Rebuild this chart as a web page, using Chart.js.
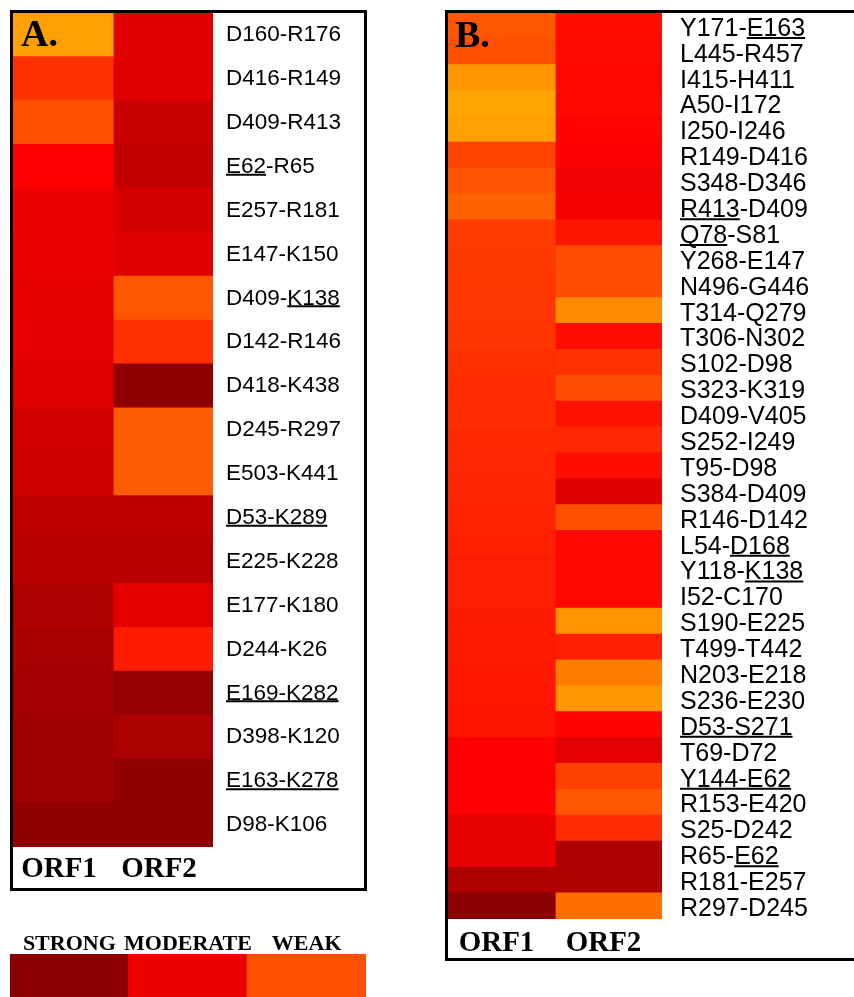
<!DOCTYPE html>
<html>
<head>
<meta charset="utf-8">
<script src="https://cdn.jsdelivr.net/npm/chart.js@4"></script>
<style>
  html,body{margin:0;padding:0;background:#fff;}
  body{width:854px;height:997px;overflow:hidden;position:relative;}
  .box{position:absolute;border:3px solid #000;background:#fff;overflow:hidden;}
  canvas{display:block;}
</style>
</head>
<body>
<div class="box" id="boxA" style="left:10px;top:10px;width:351px;height:875px;"><canvas id="cA" width="351" height="875"></canvas></div>
<div class="box" id="boxB" style="left:445px;top:10px;width:430px;height:945px;"><canvas id="cB" width="430" height="945"></canvas></div>
<canvas id="cL" width="356" height="71" style="position:absolute;left:10px;top:926px;"></canvas>
<script>
// ---------- DATA ----------
// Interaction intensity index: 0 = strongest (dark red) ... 2 = weakest (orange)
const orfLabels = ['ORF1', 'ORF2'];

const rowsA = ['D160-R176','D416-R149','D409-R413','E62-R65','E257-R181','E147-K150','D409-K138','D142-R146','D418-K438','D245-R297','E503-K441','D53-K289','E225-K228','E177-K180','D244-K26','E169-K282','D398-K120','E163-K278','D98-K106'];
const orf1A = [1.97,1.29,1.48,1.00,0.85,0.82,0.80,0.77,0.73,0.63,0.60,0.42,0.39,0.32,0.25,0.22,0.18,0.18,0.04];
const orf2A = [0.73,0.73,0.53,0.47,0.63,0.73,1.52,1.29,0.04,1.55,1.55,0.42,0.39,0.78,1.16,0.08,0.28,0.04,0.04];
const underlineA = {'E62-R65':'E62','D409-K138':'K138','D53-K289':'D53-K289','E169-K282':'E169-K282','E163-K278':'E163-K278'};

const rowsB = ['Y171-E163','L445-R457','I415-H411','A50-I172','I250-I246','R149-D416','S348-D346','R413-D409','Q78-S81','Y268-E147','N496-G446','T314-Q279','T306-N302','S102-D98','S323-K319','D409-V405','S252-I249','T95-D98','S384-D409','R146-D142','L54-D168','Y118-K138','I52-C170','S190-E225','T499-T442','N203-E218','S236-E230','D53-S271','T69-D72','Y144-E62','R153-E420','S25-D242','R65-E62','R181-E257','R297-D245'];
const orf1B = [1.53,1.48,1.91,1.99,1.97,1.41,1.51,1.59,1.36,1.35,1.34,1.33,1.32,1.29,1.28,1.27,1.25,1.24,1.23,1.22,1.20,1.19,1.18,1.17,1.16,1.15,1.13,1.12,1.00,1.00,1.00,0.81,0.81,0.32,0.00];
const orf2B = [1.07,1.06,1.04,1.05,1.02,0.98,0.90,0.92,1.12,1.46,1.46,1.85,1.08,1.30,1.46,1.10,1.24,1.08,0.70,1.48,1.05,1.05,1.05,1.90,1.18,1.76,1.92,1.02,0.77,1.39,1.52,1.27,0.32,0.32,1.67];
const underlineB = {'Y171-E163':'E163','R413-D409':'R413','Q78-S81':'Q78','L54-D168':'D168','Y118-K138':'K138','D53-S271':'D53-S271','Y144-E62':'Y144-E62','R65-E62':'E62'};

const legendLabels = ['STRONG', 'MODERATE', 'WEAK'];
const legendLevels = [0.00, 0.85, 1.48];

// ---------- COLOUR SCALE ----------
function colorFor(t) {
  if (t <= 1) return 'rgb(' + Math.round(139 + 116 * t) + ',0,0)';
  return 'rgb(255,' + Math.round(165 * (t - 1)) + ',0)';
}

Chart.defaults.color = '#000';
Chart.defaults.animation = false;

const SERIF = '"Liberation Serif", "Times New Roman", serif';
const SANS = '"Liberation Sans", Arial, sans-serif';

function noPad(s) { s.paddingTop = 0; s.paddingBottom = 0; s.paddingLeft = 0; s.paddingRight = 0; }

const underlinePlugin = {
  id: 'underline',
  afterDraw(chart, args, opts) {
    const sc = chart.scales.y;
    const ctx = chart.ctx;
    const font = Chart.helpers.toFont(sc.options.ticks.font);
    const off = sc.options.ticks.labelOffset || 0;
    ctx.save();
    ctx.font = font.string;
    ctx.strokeStyle = '#000';
    ctx.lineWidth = opts.width;
    const x0 = sc.left + sc.options.ticks.padding;
    chart.data.labels.forEach((lab, i) => {
      const sub = opts.marks[lab];
      if (!sub) return;
      const idx = lab.indexOf(sub);
      const xs = x0 + ctx.measureText(lab.slice(0, idx)).width;
      const xe = xs + ctx.measureText(sub).width;
      const y = sc.getPixelForTick(i) + off + opts.dy;
      ctx.beginPath(); ctx.moveTo(xs, y); ctx.lineTo(xe, y); ctx.stroke();
    });
    ctx.restore();
  }
};

const letterPlugin = {
  id: 'letter',
  afterDatasetsDraw(chart, args, opts) {
    const ctx = chart.ctx;
    ctx.save();
    ctx.font = 'bold ' + opts.size + 'px ' + SERIF;
    ctx.fillStyle = '#000';
    ctx.textBaseline = 'alphabetic';
    ctx.fillText(opts.text, chart.chartArea.left + opts.dx, chart.chartArea.top + opts.dy);
    ctx.restore();
  }
};

function heatmap(id, rows, o1, o2, cfg) {
  return new Chart(document.getElementById(id), {
    type: 'bar',
    data: {
      labels: rows,
      datasets: [o1, o2].map((vals, k) => ({
        label: orfLabels[k],
        data: rows.map(() => 1),
        backgroundColor: vals.map(colorFor),
        borderWidth: 0,
        barPercentage: 1,
        categoryPercentage: 1,
        inflateAmount: 0.6
      }))
    },
    options: {
      indexAxis: 'y',
      responsive: false,
      devicePixelRatio: 1,
      layout: { padding: 0 },
      plugins: {
        legend: { display: false },
        tooltip: { enabled: false },
        underline: { marks: cfg.marks, dy: cfg.udy, width: 2 },
        letter: { text: cfg.letter, dx: cfg.ldx, dy: cfg.ldy, size: 38 }
      },
      scales: {
        x: {
          type: 'linear', stacked: true, min: 0, max: 2,
          grid: { display: false, drawTicks: false }, border: { display: false },
          afterBuildTicks: s => { s.ticks = orfLabels.map((_, i) => ({ value: i + 0.5 })); },
          ticks: {
            padding: cfg.xpad, color: '#000', maxRotation: 0, minRotation: 0, labelOffset: cfg.xoff,
            font: { family: SERIF, size: 29, weight: 'bold' },
            callback: v => orfLabels[Math.floor(v)]
          },
          afterFit: s => { s.height = cfg.xh; noPad(s); }
        },
        y: {
          type: 'category', position: 'right', stacked: true,
          grid: { display: false, drawTicks: false }, border: { display: false },
          ticks: {
            autoSkip: false, padding: cfg.ypad, color: '#000', labelOffset: cfg.loff,
            font: { family: SANS, size: cfg.fs }
          },
          afterFit: s => { s.width = cfg.yw; noPad(s); }
        }
      }
    },
    plugins: [underlinePlugin, letterPlugin]
  });
}

heatmap('cA', rowsA, orf1A, orf2A, {
  marks: underlineA, udy: 8, letter: 'A.', ldx: 8, ldy: 33,
  xpad: 5, xh: 41, xoff: -4, ypad: 13, yw: 151, fs: 22.5, loff: 0
});
heatmap('cB', rowsB, orf1B, orf2B, {
  marks: underlineB, udy: 9, letter: 'B.', ldx: 7, ldy: 34,
  xpad: 7, xh: 39, xoff: -5, ypad: 18, yw: 216, fs: 25, loff: 3
});

new Chart(document.getElementById('cL'), {
  type: 'bar',
  data: {
    labels: legendLabels,
    datasets: [{
      data: legendLabels.map(() => 1),
      backgroundColor: legendLevels.map(colorFor),
      borderWidth: 0, barPercentage: 1, categoryPercentage: 1, inflateAmount: 0.6
    }]
  },
  options: {
    responsive: false, devicePixelRatio: 1, layout: { padding: 0 },
    plugins: { legend: { display: false }, tooltip: { enabled: false } },
    scales: {
      x: {
        type: 'category', position: 'top',
        grid: { display: false, drawTicks: false }, border: { display: false },
        ticks: { padding: 0, color: '#000', autoSkip: false, maxRotation: 0, minRotation: 0,
                 font: { family: SERIF, size: 22, weight: 'bold', lineHeight: 0.9 } },
        afterFit: s => { s.height = 28; noPad(s); }
      },
      y: { display: false, min: 0, max: 1 }
    }
  }
});
</script>
</body>
</html>
